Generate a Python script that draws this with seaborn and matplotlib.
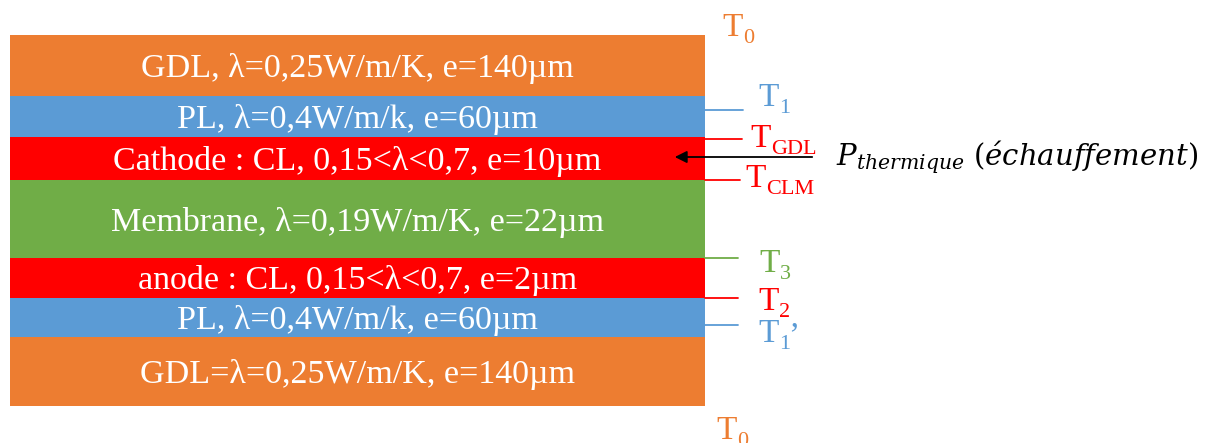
import matplotlib
matplotlib.use("Agg")
import matplotlib.pyplot as plt
import seaborn as sns
import pandas as pd
import numpy as np

# layer stack, top to bottom (band heights as drawn, in px)
layers = ["GDL", "PL", "Cathode", "Membrane", "Anode", "PL", "GDL"]
labels = [
    "GDL, λ=0,25W/m/K, e=140µm",
    "PL, λ=0,4W/m/k, e=60µm",
    "Cathode : CL, 0,15<λ<0,7, e=10µm",
    "Membrane, λ=0,19W/m/K, e=22µm",
    "anode : CL, 0,15<λ<0,7, e=2µm",
    "PL, λ=0,4W/m/k, e=60µm",
    "GDL=λ=0,25W/m/K, e=140µm",
]
band_heights = [61, 41, 43, 78, 40, 39, 69]
layer_colors = ["#ED7D31", "#5B9BD5", "#FF0000", "#70AD47", "#FF0000", "#5B9BD5", "#ED7D31"]

# temperature labels on the right
temp_sub = ["0", "1", "GDL", "CLM", "3", "2", "1", "0"]
temp_prime = ["", "", "", "", "", "", "’", ""]
temp_colors = ["#ED7D31", "#5B9BD5", "#FF0000", "#FF0000", "#70AD47", "#FF0000", "#5B9BD5", "#ED7D31"]

heat_label = r"$P_{thermique}\ (échauffement)$"

sns.set_theme(style="white")
plt.rcParams["font.family"] = ["Liberation Serif", "DejaVu Serif"]

df = pd.DataFrame({"layer": layers, "label": labels, "h": band_heights, "color": layer_colors})
df["bottom"] = 35 + np.concatenate([[0], np.cumsum(df["h"].values)[:-1]])

fig = plt.figure(figsize=(12.07, 4.43), dpi=100)
ax = fig.add_axes([0, 0, 1, 1])
ax.set_xlim(0, 1207)
ax.set_ylim(443, 0)
ax.axis("off")

x0, x1 = 10, 705
ax.bar(x=[x0] * len(df), height=df["h"], bottom=df["bottom"], width=x1 - x0,
       align="edge", color=df["color"], linewidth=0)
for _, r in df.iterrows():
    ax.text((x0 + x1) / 2, r["bottom"] + r["h"] / 2 + 3, r["label"], color="white",
            ha="center", va="center", fontsize=24.5)

# right-side temperature markers (axes data units == pixels)
renderer = fig.canvas.get_renderer()
inv = ax.transData.inverted()
tick_y = [None, 110, 139, 180, 258, 298, 325, None]
tick_end = [None, 743, 742, 740, 738, 738, 738, None]
text_x = [722, 758, 750, 745, 759, 758, 758, 716]
base_y = [36, 106, 147, 187, 272, 310, 342, 439]
for i in range(len(temp_sub)):
    c = temp_colors[i]
    if tick_y[i] is not None:
        ax.plot([x1, tick_end[i]], [tick_y[i], tick_y[i]], color=c, lw=1.3)
    t = ax.text(text_x[i], base_y[i], "T", color=c, fontsize=24, ha="left", va="baseline")
    bb = t.get_window_extent(renderer)
    s = ax.text(inv.transform((bb.x1 + 1, 0))[0], base_y[i] + 7, temp_sub[i], color=c,
                fontsize=16, ha="left", va="baseline")
    if temp_prime[i]:
        sb = s.get_window_extent(renderer)
        ax.text(inv.transform((sb.x1 - 2, 0))[0], base_y[i] + 2,
                temp_prime[i], color=c, fontsize=24, ha="left", va="baseline")

# heat input arrow
ax.annotate("", xy=(672, 157), xytext=(815, 157),
            arrowprops=dict(arrowstyle="-|>", color="black", lw=1.3, mutation_scale=18))
ax.text(836, 165, heat_label, color="black", fontsize=21, math_fontfamily="dejavuserif",
        ha="left", va="baseline")

fig.savefig("out.png", dpi=100)
